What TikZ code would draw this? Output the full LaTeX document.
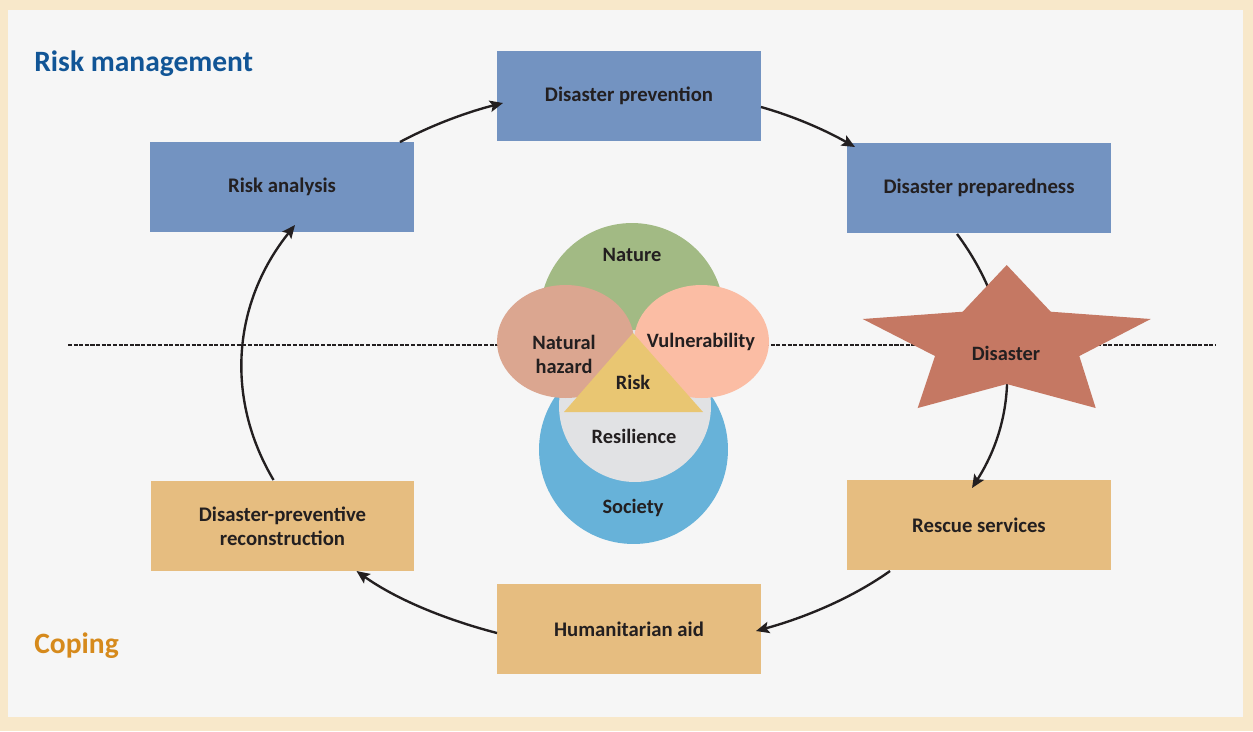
\documentclass[tikz,border=0pt]{standalone}
\usepackage{fontspec}
\setmainfont{Carlito}
\usetikzlibrary{arrows.meta,calc}
\definecolor{cream}{HTML}{F8E8CA}
\definecolor{bggray}{HTML}{F6F6F6}
\definecolor{boxblue}{HTML}{7393C1}
\definecolor{boxtan}{HTML}{E6BD80}
\definecolor{ink}{HTML}{231F20}
\definecolor{titleblue}{HTML}{115596}
\definecolor{copingorange}{HTML}{D68A1C}
\definecolor{starred}{HTML}{C57863}
\definecolor{naturegreen}{HTML}{A2BA84}
\definecolor{hazardpink}{HTML}{DBA690}
\definecolor{vulnpink}{HTML}{FBBDA4}
\definecolor{societyblue}{HTML}{67B2D9}
\definecolor{resgray}{HTML}{E1E2E4}
\definecolor{riskyellow}{HTML}{E9C672}
\tikzset{
  boxbase/.style={minimum width=5.28cm, minimum height=1.8cm, inner sep=0pt, outer sep=0pt,
    font=\fontsize{11.8}{13.8}\selectfont\bfseries, text=ink, align=center},
  bluebox/.style={boxbase, fill=boxblue},
  tanbox/.style={boxbase, fill=boxtan},
  lbl/.style={font=\fontsize{11.6}{13.6}\selectfont\bfseries, text=ink, align=center, inner sep=0pt},
  flow/.style={draw=ink, line width=1.35pt, -{Stealth[length=7.5pt,width=6.5pt,inset=1.5pt]}},
  heading/.style={font=\fontsize{16.8}{19}\selectfont\bfseries, anchor=west, inner sep=0pt}
}
\begin{document}
\begin{tikzpicture}[x=0.02cm,y=-0.02cm]
\useasboundingbox (0,0) rectangle (1253,731);
\fill[cream] (0,0) rectangle (1253,731);
\fill[bggray] (8,10) rectangle (1243,717);

% headings
\node[heading, text=titleblue] (rm) at (34,64) {Risk management};
\node[heading, text=copingorange] (cp) at (34,646) {Coping};

% dashed divider
\coordinate (dl) at (68,345);
\coordinate (dr) at (1216,345);
\draw[ink, line width=0.6pt, dash pattern=on 2.3pt off 0.9pt] (dl) -- (dr);

% boxes
\node[bluebox] (ra) at (282,187) {Risk analysis};
\node[bluebox] (dp) at (629,96) {Disaster prevention};
\node[bluebox] (pp) at (979,188) {Disaster preparedness};
\node[tanbox] (rs) at (979,525) {Rescue services};
\node[tanbox] (ha) at (629,629) {Humanitarian aid};
\node[tanbox] (rc) at (282.5,526) {Disaster-preventive\\reconstruction};

% cycle arrows
\draw[flow] ($(ra.north east)+(-14,0)$) .. controls +(31,-16.6) and +(-36.2,9.1) .. ($(dp.west)+(6,7)$);
\draw[flow] ($(dp.east)+(0,11)$) .. controls +(34.3,9.7) and +(-29.1,-16.5) .. ($(pp.north west)+(8,4)$);
\draw[flow] ($(pp.south west)+(110,1)$) .. controls +(58.5,78.6) and +(51.6,-81.2) .. ($(rs.north west)+(125,8)$);
\draw[flow] ($(rs.south west)+(43,1)$) .. controls +(-37.8,26.9) and +(49.3,-13.5) .. ($(ha.east)+(-5,2)$);
\draw[flow] ($(ha.west)+(0,4)$) .. controls +(-52,-13.5) and +(39.6,28.2) .. ($(rc.south east)+(-58,0)$);
\draw[flow] ($(rc.north west)+(123,-1)$) .. controls +(-48.9,-82.6) and +(-62.3,77.6) .. ($(ra.south west)+(145,-7)$);

% star
\fill[starred] (1006.7,265) -- (1050.7,311.7) -- (1150.7,319) -- (1079.3,356) -- (1095.7,408)
  -- (1006.7,384) -- (917.7,408) -- (935,356) -- (862.7,319) -- (962.7,311.7) -- cycle;
\node[lbl] (dis) at (1006,353) {Disaster};

% central diagram
\fill[naturegreen] (632,315) circle[radius=1.84cm];
\fill[societyblue] (633.5,449.5) circle[radius=1.89cm];
\fill[resgray] (635,406) circle[radius=1.52cm];
\fill[hazardpink] (565.5,341.5) ellipse[x radius=1.37cm, y radius=1.13cm];
\fill[vulnpink] (701.5,341.5) ellipse[x radius=1.35cm, y radius=1.13cm];
\fill[riskyellow] (633,333) -- (703,412) -- (564,412) -- cycle;

\node[lbl] (nat) at (632,255) {Nature};
\node[lbl] (haz) at (564,354) {Natural\\hazard};
\node[lbl] (vul) at (701,342) {Vulnerability};
\node[lbl] (risk) at (633,382) {Risk};
\node[lbl] (res) at (634,436) {Resilience};
\node[lbl] (soc) at (633,508) {Society};
\end{tikzpicture}
\end{document}
